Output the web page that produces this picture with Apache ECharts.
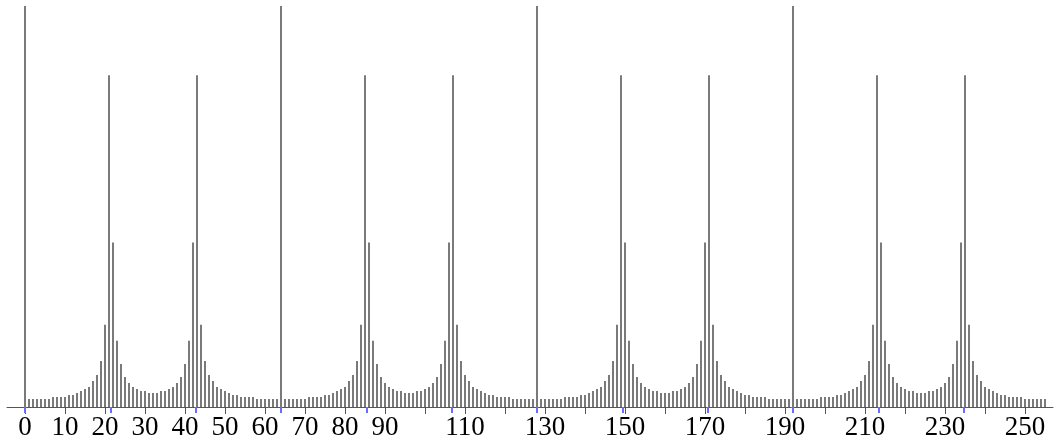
<!DOCTYPE html>
<html>
<head>
<meta charset="utf-8">
<script src="https://cdn.jsdelivr.net/npm/echarts@6/dist/echarts.min.js"></script>
<style>
  html, body { margin:0; padding:0; background:#fff; }
  #chart { width:1054px; height:443px; }
</style>
</head>
<body>
<div id="chart"></div>
<script>
// ====== data ======
// |X[k]| for k = 0..255, one row per 64 bins; the bins 0/64/128/192 run off the top
const magnitude = [
  400, 8,8,8,8,8,8, 10,10,10,10, 12,12, 14,16,18,20, 26,32,46,82, 331,164,66,43,30,24,20,18,16,16,14,14,14,16,16,18,20,24,30,43,66,164,331, 82,46,32,26,20,18,16,14,12,12,10,10,10,10, 8,8,8,8,8,8,
  400, 8,8,8,8,8,8, 10,10,10,10, 12,12, 14,16,18,20, 26,32,46,82, 331,164,66,43,30,24,20,18,16,16,14,14,14,16,16,18,20,24,30,43,66,164,331, 82,46,32,26,20,18,16,14,12,12,10,10,10,10, 8,8,8,8,8,8,
  400, 8,8,8,8,8,8, 10,10,10,10, 12,12, 14,16,18,20, 26,32,46,82, 331,164,66,43,30,24,20,18,16,16,14,14,14,16,16,18,20,24,30,43,66,164,331, 82,46,32,26,20,18,16,14,12,12,10,10,10,10, 8,8,8,8,8,8,
  400, 8,8,8,8,8,8, 10,10,10,10, 12,12, 14,16,18,20, 26,32,46,82, 331,164,66,43,30,24,20,18,16,16,14,14,14,16,16,18,20,24,30,43,66,164,331, 82,46,32,26,20,18,16,14,12,12,10,10,10,10, 8,8,8,8,8,8
];

// grey ticks every 10, labels only where the picture has them
const tickValues  = [0,10,20,30,40,50,60,70,80,90,100,110,120,130,140,150,160,170,180,190,200,210,220,230,240,250];
const labelValues = [0,10,20,30,40,50,60,70,80,90,110,130,150,170,190,210,230,250];
// blue marks at multiples of 256/12
const harmonicMarks = [0, 21.333, 42.667, 64, 85.333, 106.667, 128, 149.333, 170.667, 192, 213.333, 234.667];

// ====== chart ======
const chart = echarts.init(document.getElementById('chart'));
const stems = magnitude.map((v, k) => [k, v]);

const X_MIN = -4.5, X_MAX = 257;

chart.setOption({
  animation: false,
  grid: { left: 7, right: 1, top: 6, bottom: 36 },
  xAxis: [
    {
      type: 'value', min: X_MIN, max: X_MAX,
      splitLine: { show: false },
      axisLine: { show: true, lineStyle: { color: '#555', width: 1 } },
      axisTick: { show: true, length: 7, customValues: tickValues, lineStyle: { color: '#555', width: 1 } },
      axisLabel: {
        show: true, customValues: labelValues, margin: 7,
        fontFamily: '"Liberation Serif", "DejaVu Serif", serif',
        fontSize: 27, color: '#000'
      }
    },
    {
      type: 'value', min: X_MIN, max: X_MAX, position: 'bottom',
      splitLine: { show: false },
      axisLine: { show: false },
      axisTick: { show: true, length: 6, customValues: harmonicMarks, lineStyle: { color: '#6b6bff', width: 2 } },
      axisLabel: { show: false }
    }
  ],
  yAxis: {
    type: 'value', min: 0, max: 400, show: false,
    splitLine: { show: false }
  },
  series: [{
    type: 'bar',
    xAxisIndex: 0,
    data: stems,
    barWidth: 2,
    itemStyle: { color: '#7a7a7a' },
    silent: true
  }]
});
</script>
</body>
</html>
